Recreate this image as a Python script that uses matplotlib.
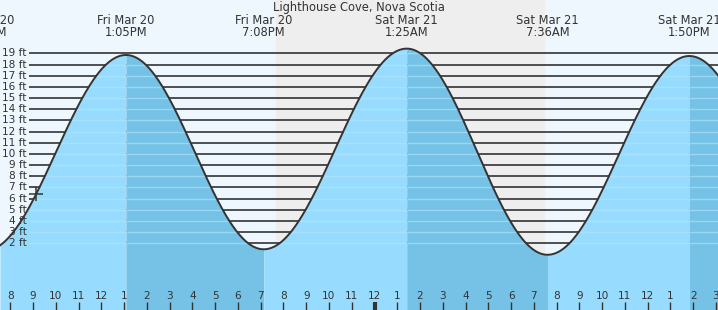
import matplotlib
matplotlib.use("Agg")
import matplotlib.pyplot as plt
import matplotlib.transforms as mtrans
import numpy as np

# tide extremes, hours from Fri Mar 20 00:00, heights in ft
ext_hours = [6.9, 13.083, 19.133, 25.417, 31.6, 37.833, 44.0]
ext_heights = [1.35, 18.85, 1.47, 19.42, 0.98, 18.76, 1.3]
ext_day = ["Fri Mar 20", "Fri Mar 20", "Fri Mar 20", "Sat Mar 21", "Sat Mar 21", "Sat Mar 21", "Sat Mar 21"]
ext_time = ["6:54AM", "1:05PM", "7:08PM", "1:25AM", "7:36AM", "1:50PM", "8:00PM"]

night_start, night_end = 19.67, 31.45
levels = list(range(2, 20))
hour_ticks = list(range(8, 40))
now_hour = 9.13

title = "Lighthouse Cove, Nova Scotia"

x0, x1 = 7.547, 39.09
y0, y1 = -3.96, 23.77

day_bg = "#eef6fe"
night_bg = "#eeeeee"
rise_c = "#97dcfe"
fall_c = "#75c2e6"
txt_c = "#333333"


def tide(t):
    t = np.asarray(t, dtype=float)
    out = np.zeros_like(t)
    for i in range(len(ext_hours) - 1):
        ta, tb = ext_hours[i], ext_hours[i + 1]
        ha, hb = ext_heights[i], ext_heights[i + 1]
        m = (t >= ta) & (t <= tb)
        f = (t[m] - ta) / (tb - ta)
        out[m] = ha + (hb - ha) * (1 - np.cos(np.pi * f)) / 2
    return out


fig = plt.figure(figsize=(7.18, 3.10), dpi=100)
ax = fig.add_axes([0, 0, 1, 1])
ax.set_xlim(x0, x1)
ax.set_ylim(y0, y1)
ax.axis("off")

ax.axvspan(x0, x1, color=day_bg, zorder=0)
ax.axvspan(night_start, night_end, color=night_bg, zorder=0)

# black level lines (covered by water below the curve)
line_start = x0 + 29 / 718 * (x1 - x0)
ax.hlines(levels, line_start, x1, color="#222222", lw=1.1, zorder=1)

t = np.linspace(x0, x1, 1500)
h = tide(t)

for i in range(len(ext_hours) - 1):
    ta, tb = ext_hours[i], ext_hours[i + 1]
    seg = np.linspace(max(ta, x0), min(tb, x1), 300)
    if seg[0] >= seg[-1]:
        continue
    c = rise_c if ext_heights[i + 1] > ext_heights[i] else fall_c
    ax.fill_between(seg, y0, tide(seg), color=c, lw=0, zorder=2)

# faint level lines under water
water = ax.fill_between(t, y0, h, color="none", lw=0, zorder=2)
faint = ax.hlines(levels, line_start, x1, color="#b4e6fb", lw=1.0, alpha=0.6, zorder=3)
faint.set_clip_path(water.get_paths()[0], ax.transData)

ax.plot(t, h, color="#333333", lw=1.4, zorder=4)
ax.plot([now_hour], tide([now_hour]), marker="+", ms=10, mew=1.1, color="#333333", zorder=5)

# y labels
ylab_tr = mtrans.blended_transform_factory(ax.transAxes, ax.transData)
for lv in levels:
    ax.text(27 / 718, lv, f"{lv} ft", transform=ylab_tr, ha="right", va="center",
            fontsize=7.6, color=txt_c, zorder=6)

# extreme labels on top
top_tr = mtrans.blended_transform_factory(ax.transData, ax.transAxes)
for th, d, tm in zip(ext_hours, ext_day, ext_time):
    ax.text(th, 1 - 20 / 310, d, transform=top_tr, ha="center", va="center",
            fontsize=8.3, color=txt_c, zorder=6, clip_on=False)
    ax.text(th, 1 - 32 / 310, tm, transform=top_tr, ha="center", va="center",
            fontsize=8.3, color=txt_c, zorder=6, clip_on=False)

ax.text(0.5, 1 - 8 / 310, title, transform=ax.transAxes, ha="center", va="center",
        fontsize=8.3, color=txt_c, zorder=6)

# hour ticks along the bottom
for hr in hour_ticks:
    lab = hr % 12
    lab = 12 if lab == 0 else lab
    ax.text(hr, 1 - 295.7 / 310, str(lab), transform=top_tr, ha="center", va="center",
            fontsize=7.6, color=txt_c, zorder=6)
    lw = 3 if hr % 24 == 0 else 1
    ax.plot([hr, hr], [0, 8.5 / 310], transform=top_tr, color="#333333", lw=lw,
            solid_capstyle="butt", zorder=6)

fig.savefig("out.png", dpi=100)
